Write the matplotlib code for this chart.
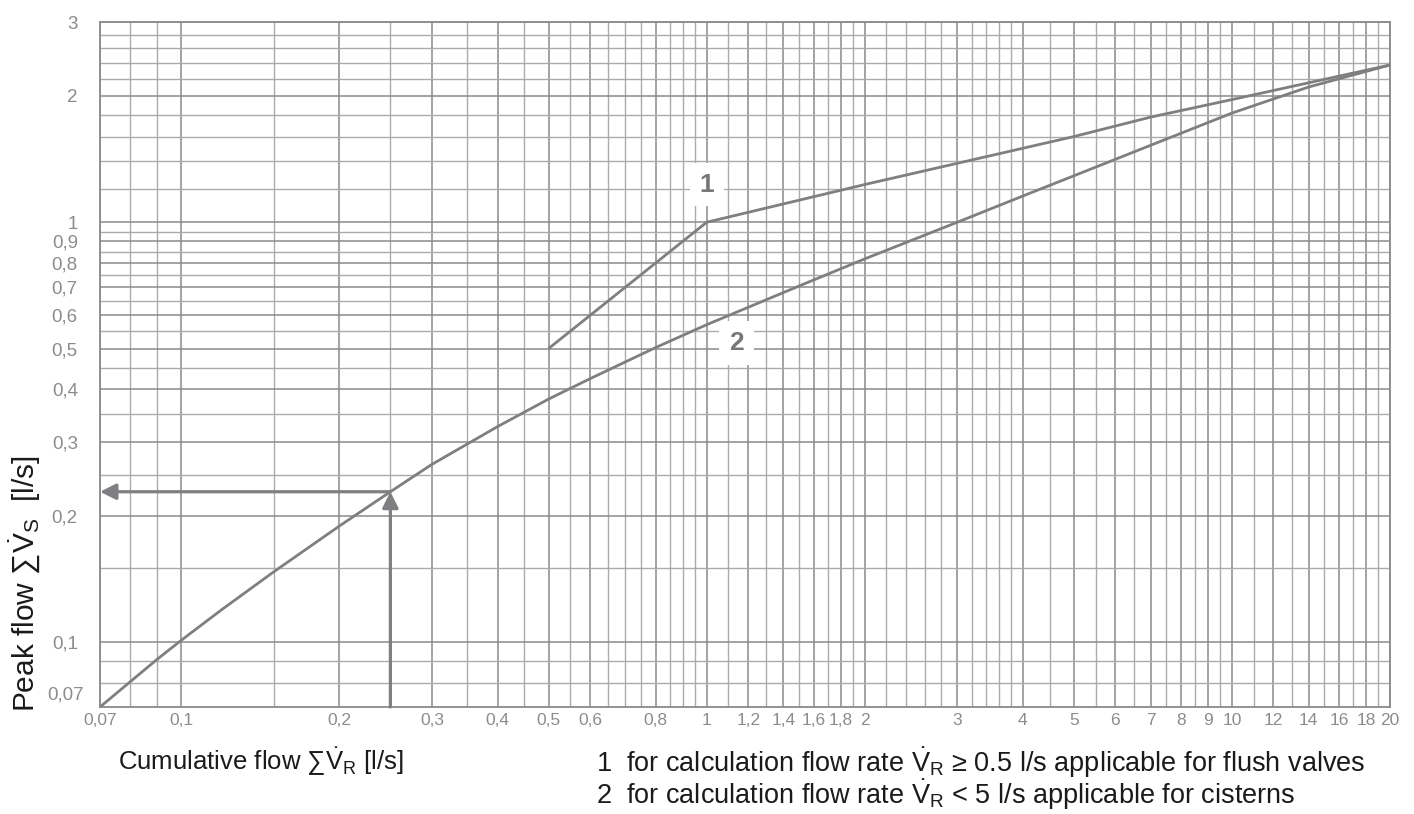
import numpy as np
import matplotlib
matplotlib.use('Agg')
import matplotlib.pyplot as plt
from matplotlib.ticker import FixedLocator, FixedFormatter, NullFormatter

# --- dane ---
curve1_x = [0.5, 1.0, 2.0, 5.0, 7.0, 10.0, 20.0]
curve1_y = [0.5, 1.0, 1.23, 1.60, 1.78, 1.96, 2.37]
curve2_x = [0.07, 0.08, 0.09, 0.1, 0.12, 0.15, 0.2, 0.25, 0.3, 0.4, 0.5, 0.6,
            0.8, 1.0, 1.5, 2.0, 3.0, 4.0, 5.0, 7.0, 10.0, 14.0, 20.0]
curve2_y = [0.07, 0.0805, 0.091, 0.101, 0.12, 0.147, 0.189, 0.228, 0.265, 0.326,
            0.379, 0.424, 0.503, 0.57, 0.705, 0.818, 1.0, 1.155, 1.29, 1.525,
            1.82, 2.1, 2.37]
read_x = 0.25
read_y = 0.228

x_ticks = [0.07, 0.1, 0.2, 0.3, 0.4, 0.5, 0.6, 0.8, 1, 1.2, 1.4, 1.6, 1.8, 2,
           3, 4, 5, 6, 7, 8, 9, 10, 12, 14, 16, 18, 20]
x_labels = ['0,07', '0,1', '0,2', '0,3', '0,4', '0,5', '0,6', '0,8', '1', '1,2',
            '1,4', '1,6', '1,8', '2', '3', '4', '5', '6', '7', '8', '9', '10',
            '12', '14', '16', '18', '20']
y_ticks = [0.1, 0.2, 0.3, 0.4, 0.5, 0.6, 0.7, 0.8, 0.9, 1, 2, 3]
y_labels = ['0,1', '0,2', '0,3', '0,4', '0,5', '0,6', '0,7', '0,8', '0,9', '1', '2', '3']

# siatka pomocnicza
x_grid = np.concatenate([np.arange(0.07, 0.1, 0.01), np.arange(0.1, 1.0, 0.05),
                         np.arange(1.0, 2.0, 0.1), np.arange(2.0, 4.0, 0.2),
                         np.arange(4.0, 10.0, 0.5), np.arange(10.0, 20.5, 1.0)])
y_grid = np.concatenate([np.arange(0.07, 0.1, 0.01), np.arange(0.1, 1.0, 0.05),
                         np.arange(1.0, 3.05, 0.2)])

plt.rcParams['mathtext.fontset'] = 'custom'
plt.rcParams['mathtext.rm'] = 'Liberation Sans'
plt.rcParams['mathtext.it'] = 'Liberation Sans:italic'
plt.rcParams['mathtext.bf'] = 'Liberation Sans:bold'
plt.rcParams['font.family'] = ['Liberation Sans', 'DejaVu Sans']

line_col = '#7f7f81'
tick_col = '#8c8c8c'
text_col = '#1a1a1a'

fig = plt.figure(figsize=(14.14, 8.14), dpi=100)
ax = fig.add_axes([100 / 1414, 1 - 707 / 814, 1290 / 1414, 685 / 814])
ax.set_xscale('log')
ax.set_yscale('log')
ax.set_xlim(0.07, 20)
ax.set_ylim(0.07, 3)

ax.xaxis.set_major_locator(FixedLocator(x_ticks))
ax.xaxis.set_major_formatter(FixedFormatter(x_labels))
ax.xaxis.set_minor_locator(FixedLocator(x_grid))
ax.xaxis.set_minor_formatter(NullFormatter())
ax.yaxis.set_major_locator(FixedLocator(y_ticks))
ax.yaxis.set_major_formatter(FixedFormatter(y_labels))
ax.yaxis.set_minor_locator(FixedLocator(y_grid))
ax.yaxis.set_minor_formatter(NullFormatter())

ax.grid(True, which='minor', color='#ababab', lw=1.0)
ax.grid(True, which='major', color='#8a8a8a', lw=1.1)
ax.set_axisbelow(True)
ax.tick_params(which='both', length=0)
ax.tick_params(axis='x', pad=4, labelsize=12.5, labelcolor=tick_col)
ax.tick_params(axis='y', pad=16, labelsize=13.5, labelcolor=tick_col)
for s in ax.spines.values():
    s.set_color('#8a8a8a')
    s.set_linewidth(1.3)

# 0,07 na osi Y przesunięte w górę
ax.annotate('0,07', xy=(0, 0.07), xycoords=('axes fraction', 'data'),
            xytext=(-16, 12), textcoords='offset pixels', ha='right', va='center',
            fontsize=13.5, color=tick_col)

ax.plot(curve1_x, curve1_y, color=line_col, lw=2.0, solid_capstyle='butt', zorder=3)
ax.plot(curve2_x, curve2_y, color=line_col, lw=2.0, zorder=3)

# strzałki odczytu
arr = dict(arrowstyle='-|>', color=line_col, lw=2.3, mutation_scale=24,
           shrinkA=0, shrinkB=0)
ax.annotate('', xy=(read_x, read_y), xytext=(read_x, 0.07), arrowprops=arr, zorder=4)
ax.annotate('', xy=(0.07, read_y), xytext=(read_x, read_y), arrowprops=arr, zorder=4)

box = dict(facecolor='white', edgecolor='none', pad=7)
ax.text(1.0, 1.23, '1', fontsize=19, fontweight='bold', color='#777777',
        ha='center', va='center', bbox=box, zorder=5)
ax.text(1.14, 0.515, '2', fontsize=19, fontweight='bold', color='#777777',
        ha='center', va='center', bbox=box, zorder=5)

fig.text(25 / 1414, 1 - 712 / 814,
         r'Peak flow ∑$\dot{\mathrm{V}}_\mathrm{S}$  [l/s]',
         fontsize=21.5, color=text_col, rotation=90, ha='center', va='bottom')
fig.text(118 / 1414, 1 - 762 / 814,
         r'Cumulative flow ∑$\dot{\mathrm{V}}_\mathrm{R}$ [l/s]',
         fontsize=18.5, color=text_col, va='center')
fig.text(596 / 1414, 1 - 763 / 814,
         r'1  for calculation flow rate $\dot{\mathrm{V}}_\mathrm{R}$ ≥ 0.5 l/s applicable for flush valves',
         fontsize=19.5, color=text_col, va='center')
fig.text(596 / 1414, 1 - 795 / 814,
         r'2  for calculation flow rate $\dot{\mathrm{V}}_\mathrm{R}$ < 5 l/s applicable for cisterns',
         fontsize=19.5, color=text_col, va='center')

plt.savefig('out.png', dpi=100)
